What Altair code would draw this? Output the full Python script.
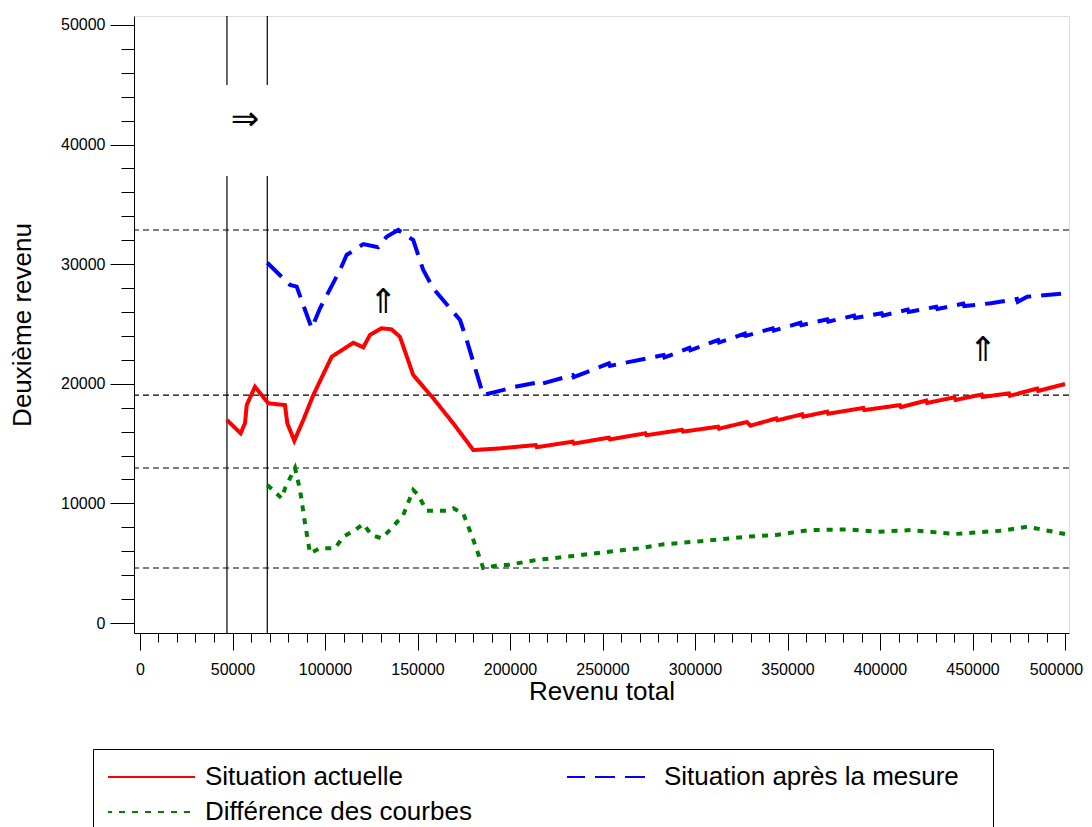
import altair as alt
import pandas as pd

# ---------------- data ----------------
names = ["Situation actuelle", "Situation après la mesure", "Différence des courbes"]

red_x = [47000, 54400, 56750, 57700, 62150, 65770, 69350, 78370, 79620, 83400, 88270, 93680,
         103600, 115300, 120700, 124300, 130600, 136000, 140500, 147700, 158500, 169300, 180150,
         194600, 214000, 214500, 233900, 234500, 253500, 254000, 273200, 273800, 293000, 293500,
         312500, 313000, 328000, 330000, 344000, 344600, 358000, 358500, 371500, 372000, 391000,
         391500, 410800, 411300, 425000, 425500, 440200, 440800, 455000, 455500, 469700, 470200,
         485000, 485500, 500000]
red_y = [16970, 15860, 16700, 18220, 19750, 19060, 18370, 18220, 16700, 15240, 16970, 19060,
         22260, 23430, 23050, 24080, 24640, 24550, 23930, 20730, 18790, 16700, 14460,
         14600, 14880, 14700, 15160, 15000, 15500, 15350, 15860, 15700, 16150, 16000,
         16410, 16250, 16800, 16500, 17110, 16950, 17450, 17250, 17670, 17500, 17980,
         17800, 18220, 18050, 18600, 18400, 18870, 18650, 19100, 18900, 19200, 19000,
         19600, 19400, 19980]

blue_x = [68800, 81100, 84700, 92800, 97300, 108100, 111700, 120700, 128800, 133300, 139600,
          147700, 153100, 158500, 173000, 176600, 185500, 192800, 202700, 214300, 214800, 233900,
          234400, 253500, 254000, 283000, 283500, 297000, 297500, 312500, 313000, 327000, 327500,
          342000, 342600, 357000, 357500, 371500, 372000, 386000, 386500, 400900, 401500, 415000,
          415500, 430400, 431000, 445000, 445500, 459900, 474000, 474500, 479600, 500000]
blue_y = [30120, 28260, 28120, 24640, 26310, 29510, 30770, 31680, 31410, 32300, 32860,
          32020, 29510, 27980, 25330, 23660, 19060, 19340, 19750, 20090, 19900, 20730,
          20550, 21710, 21500, 22400, 22200, 23000, 22800, 23660, 23450, 24200, 24000,
          24640, 24450, 25100, 24900, 25390, 25200, 25700, 25500, 25890, 25700, 26200,
          26000, 26440, 26250, 26700, 26500, 26730, 27100, 26850, 27280, 27560]

green_x = [68800, 76600, 78400, 83800, 86500, 89200, 91900, 97300, 105400, 109900, 116200,
           120700, 125200, 130600, 136000, 142300, 147700, 150400, 154900, 165800, 169300,
           174700, 180200, 185500, 194600, 198500, 214300, 233900, 253500, 269300, 283000,
           304600, 328200, 344000, 361600, 383300, 399000, 416700, 440200, 465800, 479600,
           500000]
green_y = [11540, 10420, 11260, 12960, 11120, 8330, 5830, 6250, 6250, 7220, 7770,
           8280, 7360, 7080, 7920, 9030, 11120, 10700, 9390, 9390, 9590,
           9170, 6940, 4600, 4850, 4850, 5270, 5600, 5960, 6240, 6580,
           6860, 7220, 7360, 7770, 7830, 7630, 7770, 7440, 7720, 8050,
           7440]

hline_y = [32860, 19060, 12960, 4600]

vline_x = [47000, 47000, 68800, 68800]
vline_y = [44980, -836, 44980, -836]
vline_y2 = [50750, 37370, 50750, 37370]

arrow_x = [56750, 131300, 455600]
arrow_y = [42050, 26750, 22740]
arrow_txt = ["⇒", "⇑", "⇑"]

x_ticks = [0, 50000, 100000, 150000, 200000, 250000, 300000, 350000, 400000, 450000, 500000]
x_minor = list(range(0, 500001, 10000))
y_ticks = [0, 10000, 20000, 30000, 40000, 50000]
y_minor = list(range(0, 50001, 2000))

X_DOM = [-3243, 502160]
Y_DOM = [-836, 50750]

# ---------------- tables ----------------
rows = []
for nm, xs_, ys_ in [(names[0], red_x, red_y), (names[1], blue_x, blue_y), (names[2], green_x, green_y)]:
    for i, (xv, yv) in enumerate(zip(xs_, ys_)):
        rows.append({"serie": nm, "rt": xv, "dr": yv, "ordre": i})
df = pd.DataFrame(rows)
hdf = pd.DataFrame({"hy": hline_y})
vdf = pd.DataFrame({"vx": vline_x, "vy": vline_y, "vy2": vline_y2})
adf = pd.DataFrame({"ax": arrow_x, "ay": arrow_y, "t": arrow_txt})

FONT = "Liberation Sans"
xs = alt.Scale(domain=X_DOM, nice=False, zero=False)
ys = alt.Scale(domain=Y_DOM, nice=False, zero=False)

# blank (non-whitespace) filler so the legend frame reaches further right
FILL = "\u2800"
label_expr = "datum.label == '%s' ? datum.label + '%s' : datum.label" % (names[1], FILL)

legend = alt.Legend(
    title=None, orient="none", legendX=-41, legendY=733, direction="horizontal",
    columns=2, symbolType="stroke", symbolStrokeWidth=2, symbolSize=7921, clipHeight=26,
    labelFontSize=26, labelFont=FONT, labelColor="black", labelLimit=700,
    strokeColor="black", padding=15, symbolOffset=-3, labelOffset=9,
    rowPadding=9, columnPadding=95, labelExpr=label_expr,
)

x_label_offset = {"condition": {"test": "datum.value == 500000", "value": -9}, "value": 0}

lines = alt.Chart(df).mark_line(strokeWidth=4).encode(
    x=alt.X("rt:Q", scale=xs, title="Revenu total",
            axis=alt.Axis(orient="bottom", values=x_ticks, format="d", tickSize=17,
                          labelPadding=11, labelFontSize=16, labelFont=FONT,
                          labelColor="black", labelFlush=False, labelOverlap=False,
                          labelOffset=x_label_offset,
                          titleFontSize=26, titleFont=FONT, titleFontWeight="normal",
                          titleColor="black", titlePadding=1, grid=False,
                          domainColor="black", tickColor="black")),
    y=alt.Y("dr:Q", scale=ys, title="Deuxième revenu",
            axis=alt.Axis(orient="left", values=y_ticks, format="d", tickSize=24,
                          labelPadding=5, labelFontSize=16, labelFont=FONT,
                          labelColor="black", labelFlush=False, labelOverlap=False,
                          titleFontSize=26, titleFont=FONT, titleFontWeight="normal",
                          titleColor="black", titlePadding=25, grid=False,
                          domainColor="black", tickColor="black")),
    color=alt.Color("serie:N", scale=alt.Scale(domain=names, range=["#ff0000", "#0000ff", "#008000"]),
                    legend=legend),
    strokeDash=alt.StrokeDash("serie:N", scale=alt.Scale(domain=names, range=[[1, 0], [20, 10], [6, 7]]),
                              legend=legend),
    order="ordre:Q",
)

vlines = alt.Chart(vdf).mark_rule(color="black", strokeWidth=1.2).encode(
    x=alt.X("vx:Q", scale=xs, title=None,
            axis=alt.Axis(orient="bottom", values=x_minor, labels=False, domain=False,
                          tickSize=9, tickColor="black", grid=False)),
    y=alt.Y("vy:Q", scale=ys, title=None,
            axis=alt.Axis(orient="left", values=y_minor, labels=False, domain=False,
                          tickSize=13, tickColor="black", grid=False)),
    y2="vy2:Q",
)

hlines = alt.Chart(hdf).mark_rule(color="black", strokeWidth=1.2, strokeDash=[6, 4]).encode(
    y=alt.Y("hy:Q", scale=ys, axis=None),
)

arrows = alt.Chart(adf).mark_text(font="DejaVu Sans", fontSize=34, color="black",
                                  baseline="middle").encode(
    x=alt.X("ax:Q", scale=xs, axis=None),
    y=alt.Y("ay:Q", scale=ys, axis=None),
    text="t:N",
)

chart = alt.layer(hlines, vlines, lines, arrows).resolve_axis(
    x="independent", y="independent"
).properties(
    width=935, height=617,
    autosize=alt.AutoSizeParams(type="none"),
    padding={"left": 126, "top": 8, "right": 15, "bottom": 194},
).configure_view(stroke="black", strokeWidth=1).configure(background="white")

chart.save("out.html", embed_options={"renderer": "svg", "actions": False})
